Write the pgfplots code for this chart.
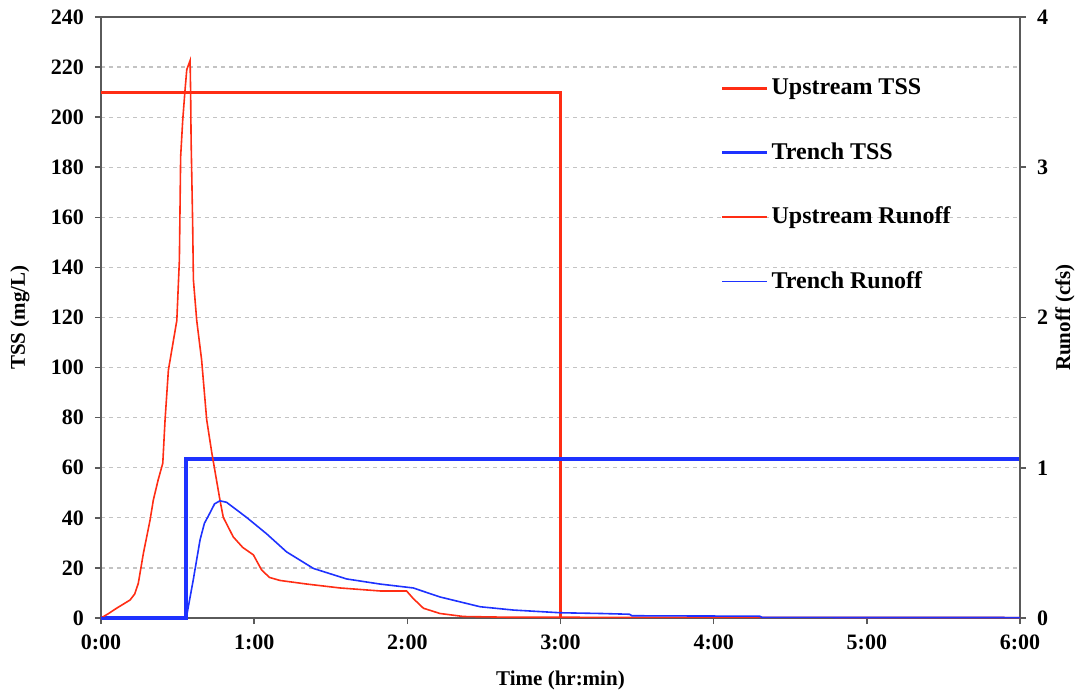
\documentclass[border=0pt]{standalone}
\usepackage{pgfplots}
\pgfplotsset{compat=1.18}
\usepackage{fontspec}
\setmainfont{Liberation Serif}
\definecolor{upred}{RGB}{255,45,20}
\definecolor{trblue}{RGB}{30,50,255}
\definecolor{axgray}{RGB}{90,90,90}
\definecolor{gridgray}{RGB}{195,195,195}
\begin{document}
\begin{tikzpicture}
\pgfplotsset{
  common/.style={
    scale only axis, width=459.5pt, height=300.5pt,
    xmin=0, xmax=360,
    tick align=outside, major tick length=3pt,
    every tick/.style={axgray, line width=0.8pt},
    axis line style={axgray, line width=1pt},
    tick label style={font=\bfseries\fontsize{11}{13}\selectfont},
    /pgf/number format/assume math mode=true,
    label style={font=\bfseries\fontsize{10.5}{12}\selectfont},
    clip=false,
  }
}
\begin{axis}[common,
  ymin=0, ymax=240, ytick={0,20,...,240},
  xtick={0,60,...,360},
  xticklabels={0:00,1:00,2:00,3:00,4:00,5:00,6:00},
  xtick pos=bottom, ytick pos=left,
  ymajorgrids,
  major grid style={gridgray, line width=0.6pt, dash pattern=on 2pt off 2pt},
  yticklabel style={xshift=-2pt},
  xticklabel style={yshift=-2pt},
  xlabel={Time (hr:min)}, ylabel={TSS (mg/L)},
  xlabel style={at={(axis description cs:0.5,0)}, anchor=center, yshift=-31pt},
  ylabel style={at={(axis description cs:0,0.5)}, anchor=center, yshift=40.5pt},
]
\addplot[upred, line width=1.6pt] coordinates {(0,210) (180,210) (180,0)};
\addplot[trblue, line width=1.6pt] coordinates {(0,0) (33.3,0) (33.3,63.5) (360,63.5)};
\end{axis}
\begin{axis}[common,
  ymin=0, ymax=4, ytick={0,1,2,3,4},
  axis y line*=right, axis x line=none,
  yticklabel style={xshift=2pt},
  ylabel={Runoff (cfs)},
  ylabel style={at={(axis description cs:1,0.5)}, anchor=center, yshift=-22.5pt},
  legend cell align=left,
  legend image code/.code={\draw[#1] (0pt,0pt) -- (22.5pt,0pt);},
  legend style={at={(axis description cs:0.6736,0.903)}, anchor=north west,
    draw=none, fill=none, inner sep=0pt, row sep=19.4pt,
    font=\bfseries\fontsize{12}{14}\selectfont,
    nodes={inner sep=1.5pt}},
]
\addlegendimage{upred, line width=1.6pt}
\addlegendentry{Upstream TSS}
\addlegendimage{trblue, line width=1.6pt}
\addlegendentry{Trench TSS}
\addplot[upred, line width=0.8pt] coordinates {
(0,0) (3,0.03) (6.1,0.065) (9,0.095) (11.4,0.12) (13.2,0.16) (14.6,0.23) (16.6,0.43) (19.2,0.65) (20.5,0.785)
(22.4,0.92) (24.2,1.03) (25.1,1.32) (26.4,1.65) (27.7,1.78) (29.7,1.98)
(30.7,2.38) (30.9,2.65) (31.2,3.07) (32.0,3.31) (32.9,3.51) (33.6,3.65) (34.9,3.71)
(35.1,3.51) (35.3,3.18) (35.9,2.63) (36.2,2.25) (37.5,1.98) (39.4,1.72)
(41.4,1.32) (43.4,1.10) (46.6,0.785) (47.9,0.67) (51.8,0.54) (55.5,0.47)
(59.7,0.42) (62.9,0.32) (66,0.27) (70.1,0.25) (80.6,0.226) (93.6,0.20)
(109.3,0.18) (119.7,0.18) (122.3,0.13) (126.3,0.065) (132.8,0.03) (142,0.01)
(160,0.005) (360,0.003)};
\addlegendentry{Upstream Runoff}
\addplot[trblue, line width=0.8pt] coordinates {
(0,0) (33.4,0) (36.1,0.25) (38.8,0.52) (40.5,0.63) (42.7,0.70) (44.5,0.76) (46.6,0.78) (49.2,0.77)
(57.0,0.67) (64.9,0.56) (72.7,0.44) (83.2,0.33) (96.2,0.26) (109.3,0.226)
(122.3,0.20) (132.8,0.14) (148.5,0.075) (161.5,0.053) (179.8,0.035) (196,0.03)
(207,0.025) (208,0.015) (258,0.012) (259,0.004) (360,0.003)};
\addlegendentry{Trench Runoff}
\end{axis}
\pgfresetboundingbox
\path (-50.5pt,-37pt) rectangle (489.5pt,309pt);
\end{tikzpicture}
\end{document}
